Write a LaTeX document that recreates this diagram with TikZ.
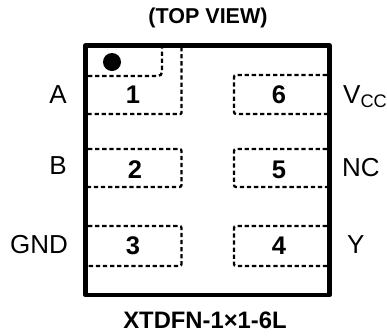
\documentclass[tikz,border=0pt]{standalone}
\usepackage{fontspec}
\setmainfont{Liberation Sans}
\tikzset{
  padline/.style={line width=2.3pt,dash pattern=on 4.3pt off 2.8pt},
  pinlabel/.style={font=\fontsize{26}{28}\selectfont,inner sep=0pt},
  padnum/.style={font=\fontsize{25.5}{28}\selectfont\bfseries,inner sep=0pt},
  title/.style={font=\fontsize{21.5}{24}\selectfont\bfseries,inner sep=0pt},
  partname/.style={font=\fontsize{23.8}{26}\selectfont\bfseries,inner sep=0pt}
}
\begin{document}
\begin{tikzpicture}[x=1pt,y=-1pt]
            \useasboundingbox (0,0) rectangle (387,335);
            \coordinate (tl) at (85.5,45.5);
            \coordinate (br) at (329.5,295);

            % dashed pads, left column
            \draw[padline,rounded corners=4pt] (88,76)--(162,76)--(162,47);
            \draw[padline,rounded corners=1pt] (181.5,47)--(181.5,114)--(88,114);
            \draw[padline,rounded corners=2pt] (88,149)--(181.5,149)--(181.5,187)--(88,187);
            \draw[padline,rounded corners=2pt] (88,226)--(181.5,226)--(181.5,266)--(88,266);

            % dashed pads, right column
            \draw[padline,rounded corners=2pt] (327,75)--(234,75)--(234,114)--(327,114);
            \draw[padline,rounded corners=2pt] (327,149)--(234,149)--(234,187)--(327,187);
            \draw[padline,rounded corners=2pt] (327,226)--(234,226)--(234,266)--(327,266);

            \draw[line width=4.5pt,line join=round] (tl) rectangle (br);
            \fill (112,62) circle(9pt);

            \node[title] (top) at (208,18) {(TOP VIEW)};
            \node[partname] (name) at (205,320) {XTDFN-1×1-6L};

            \node[padnum] (n1) at (133,94.5) {1};
            \node[padnum] (n2) at (135,169.5) {2};
            \node[padnum] (n3) at (133,246) {3};
            \node[padnum] (n4) at (279,246) {4};
            \node[padnum] (n5) at (279,169.5) {5};
            \node[padnum] (n6) at (279,94.5) {6};

            \node[pinlabel,anchor=base east] (pa) at (67,103) {A};
            \node[pinlabel,anchor=base east] (pb) at (67,174) {B};
            \node[pinlabel,anchor=base east] (pg) at (68,253) {GND};
            \node[pinlabel,anchor=base west] (pv) at (343,103) {V\textsubscript{CC}};
            \node[pinlabel,anchor=base west] (pn) at (342,176) {NC};
            \node[pinlabel,anchor=base west] (py) at (347,253) {Y};
        \end{tikzpicture}
\end{document}
